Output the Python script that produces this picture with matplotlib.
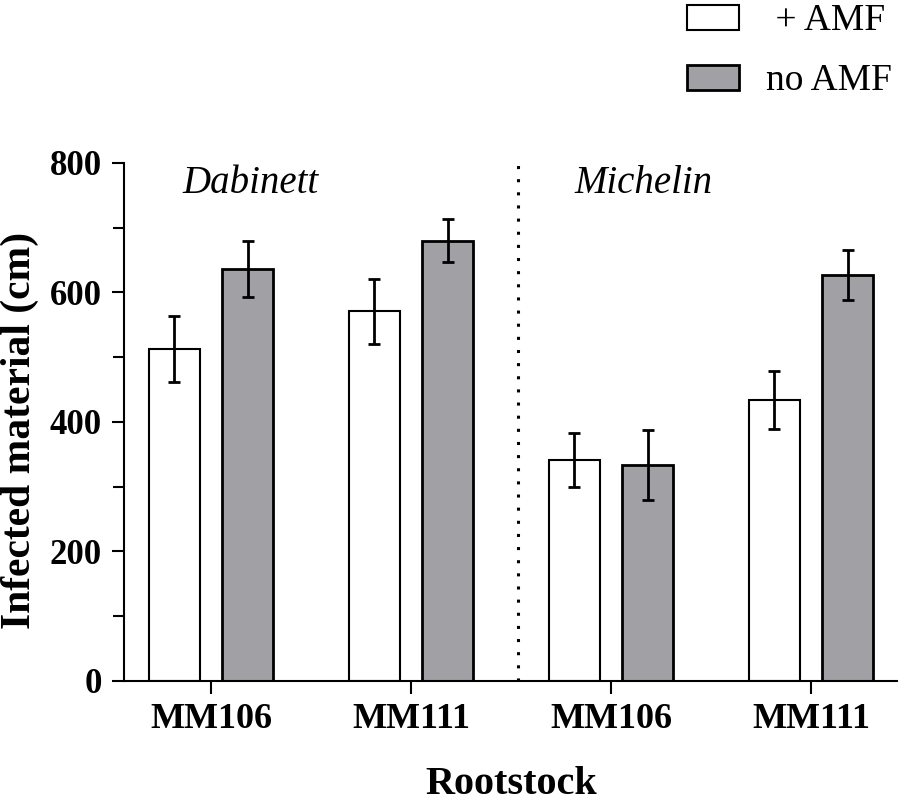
import matplotlib
matplotlib.use('Agg')
import matplotlib.pyplot as plt
from matplotlib.ticker import MultipleLocator
import numpy as np

plt.rcParams['font.family'] = ['Liberation Serif', 'DejaVu Serif']

# data
rootstocks = ['MM106', 'MM111', 'MM106', 'MM111']
cultivars = ['Dabinett', 'Michelin']
amf_mean = [512, 571, 341, 434]
amf_err = [51, 50, 42, 45]
noamf_mean = [636, 680, 333, 627]
noamf_err = [43, 33, 54, 39]

fig = plt.figure(figsize=(9.03, 8.02), dpi=100)
ax = fig.add_axes([0.1373, 0.1509, 0.8561, 0.6459])

x = np.arange(len(rootstocks))
w = 0.255
off = 0.183
ekw = dict(elinewidth=2, capthick=2, capsize=4.5, ecolor='black')
b1 = ax.bar(x - off, amf_mean, w, yerr=amf_err, color='white', edgecolor='black',
            linewidth=1.5, error_kw=ekw, label=' + AMF')
b2 = ax.bar(x + off, noamf_mean, w, yerr=noamf_err, color='#a0a0a5', edgecolor='black',
            linewidth=2, error_kw=ekw, label='no AMF')

ax.set_xlim(-0.435, 3.43)
ax.set_ylim(0, 800)
ax.yaxis.set_major_locator(MultipleLocator(200))
ax.yaxis.set_minor_locator(MultipleLocator(100))
ax.set_xticks(x)
ax.set_xticklabels(rootstocks, fontsize=26, fontweight='bold')
for lab in ax.get_yticklabels():
    lab.set_fontsize(25)
    lab.set_fontweight('bold')
ax.tick_params(axis='both', which='major', length=9, width=1.5, direction='out')
ax.tick_params(axis='y', which='minor', length=8, width=1.5, direction='out')
ax.tick_params(axis='x', pad=7)
ax.tick_params(axis='y', pad=7)

for s in ['top', 'right']:
    ax.spines[s].set_visible(False)
for s in ['left', 'bottom']:
    ax.spines[s].set_linewidth(1.5)

fig.text(20 / 903, 1 - 430 / 802, 'Infected material (cm)', rotation=90,
         fontsize=30, fontweight='bold', ha='center', va='center')
fig.text(511 / 903, 1 - 794 / 802, 'Rootstock', fontsize=29, fontweight='bold',
         ha='center', va='baseline')

# divider between cultivars
ax.axvline(1.535, ymin=0, ymax=1, color='black', linestyle=(0, (1, 3.3)), linewidth=2.2)

ax.text(0.2, 768, cultivars[0], fontsize=28, style='italic', ha='center', va='center')
ax.text(2.16, 768, cultivars[1], fontsize=28, style='italic', ha='center', va='center')

fig.legend(handles=[b1, b2], loc='upper left', bbox_to_anchor=(687 / 903, 1 - 4 / 802),
           fontsize=27, frameon=False, handlelength=1.39, handleheight=0.67,
           labelspacing=0.68, handletextpad=0.72, borderaxespad=0, borderpad=0)

fig.savefig('out.png', dpi=100, facecolor='white')
